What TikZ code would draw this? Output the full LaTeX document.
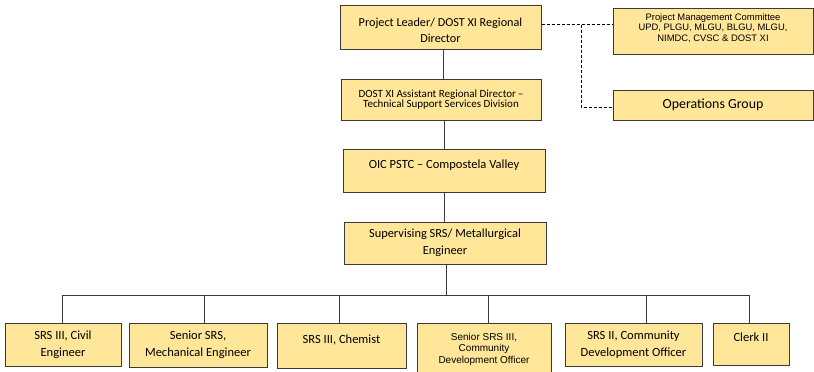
\documentclass[tikz,border=0pt]{standalone}
\usepackage{fontspec}
\setmainfont{Carlito}
\newfontfamily\arialf{Liberation Sans}
\definecolor{boxfill}{HTML}{FFE699}
\definecolor{edge}{HTML}{3A3A3A}
\tikzset{
  box/.style n args={2}{draw=edge, fill=boxfill, line width=1pt, align=center, inner sep=0pt,
    minimum width=#1, minimum height=#2},
  raised/.style={text height=9pt, text depth=#1},
  link/.style={draw=edge, line width=1pt},
  dlink/.style={draw=black, line width=0.8pt, dash pattern=on 3pt off 2pt},
}
\begin{document}
\begin{tikzpicture}[x=1pt,y=-1pt]
\useasboundingbox (0,0) rectangle (814,372);
% top column
\node[box={201pt}{44pt}, label={[align=center, font=\fontsize{12.2}{16}\selectfont, yshift=-3pt]center:Project Leader/ DOST XI Regional\\Director}] (pl) at (440.5,27) {};
\node[box={200pt}{41pt}, font=\fontsize{11}{10.5}\selectfont] (ard) at (441,99.5) {DOST XI Assistant Regional Director\,--\\Technical Support Services Division};
\node[box={202pt}{43pt}, raised=14pt, font=\fontsize{12.5}{16}\selectfont] (oic) at (444,170.5) {OIC PSTC -- Compostela Valley};
\node[box={202pt}{42pt}, font=\fontsize{12.4}{16.7}\selectfont] (sup) at (445,243) {Supervising SRS/ Metallurgical\\Engineer};
% right side
\node[box={200pt}{46pt}, label={[align=center, font=\arialf\fontsize{9.4}{10.8}\selectfont, yshift=3pt]center:Project Management Committee\\UPD, PLGU, MLGU, BLGU, MLGU,\\NIMDC, CVSC \& DOST XI}] (pmc) at (713,31) {};
\node[box={200pt}{30pt}, font=\fontsize{13.9}{16}\selectfont] (ops) at (713,105) {Operations Group};
% bottom row
\node[box={116pt}{43pt}, font=\fontsize{12.5}{17}\selectfont] (b1) at (63,344.5) {SRS III, Civil\\Engineer};
\node[box={138pt}{44pt}, font=\fontsize{12.5}{17}\selectfont] (b2) at (198,345) {Senior SRS,\\Mechanical Engineer};
\node[box={129pt}{45pt}, raised=13pt, font=\fontsize{12.5}{17}\selectfont] (b3) at (341.5,345.5) {SRS III, Chemist};
\node[box={134pt}{52pt}, font=\arialf\fontsize{10}{11.5}\selectfont] (b4) at (484,349) {Senior SRS III,\\Community\\Development Officer};
\node[box={137pt}{43pt}, font=\fontsize{12.5}{17}\selectfont] (b5) at (633.5,344.5) {SRS II, Community\\Development Officer};
\node[box={76pt}{42pt}, raised=14pt, font=\fontsize{12.5}{17}\selectfont] (b6) at (751,344) {Clerk II};
% coordinates
\coordinate (busL) at (62,295);
\coordinate (busR) at (749,295);
\coordinate (dj) at (581,24.5);
% solid links
\draw[link] (443,49) -- (443,79);
\draw[link] (444,120) -- (444,149);
\draw[link] (444,192) -- (444,222);
\draw[link] (446,264) -- (446,295);
\draw[link] (busL) -- (busR);
\draw[link] (busL) -- (b1.north -| busL);
\draw[link] (204,295) -- (204,323);
\draw[link] (339,295) -- (339,323);
\draw[link] (488,295) -- (488,323);
\draw[link] (646,295) -- (646,323);
\draw[link] (busR) -- (749,323);
% dashed links
\draw[dlink] (pl.east |- dj) -- (pmc.west |- dj);
\draw[dlink] (dj) -- (581,107) -- (ops.west |- 0,107);
\end{tikzpicture}
\end{document}
